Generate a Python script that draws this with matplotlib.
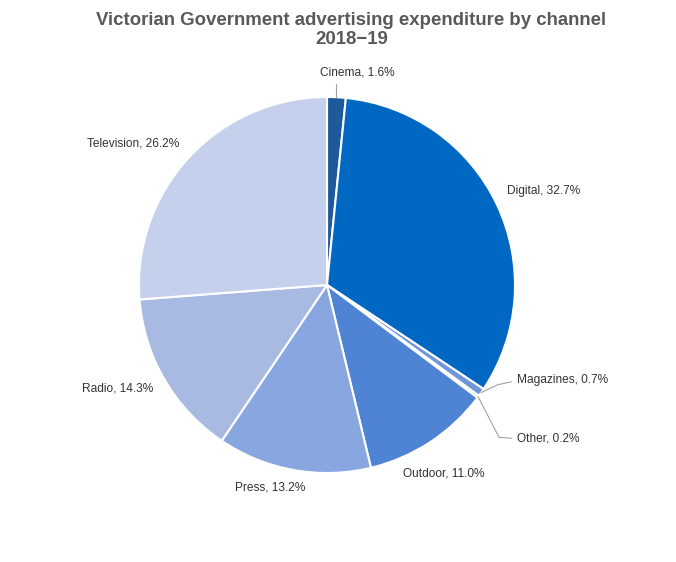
import numpy as np
import matplotlib.pyplot as plt

plt.rcParams['font.family'] = ['Liberation Sans', 'DejaVu Sans']

channels = ['Cinema', 'Digital', 'Magazines', 'Other', 'Outdoor', 'Press', 'Radio', 'Television']
shares = [1.6, 32.7, 0.7, 0.2, 11.0, 13.2, 14.3, 26.2]
colors = ['#1c5a9c', '#0067c2', '#6f96d8', '#9fb3e0', '#4f84d5', '#88a6df', '#a8bae2', '#c5d0ec']

fig = plt.figure(figsize=(6.76, 5.62), dpi=100)
cx, cy, r = 327, 285, 188
ax = fig.add_axes([(cx - r) / 676, (562 - cy - r) / 562, 2 * r / 676, 2 * r / 562])
wedges, _ = ax.pie(shares, colors=colors, startangle=90, counterclock=False, radius=1,
                   wedgeprops=dict(edgecolor='white', linewidth=1.5))
ax.set_xlim(-1, 1)
ax.set_ylim(-1, 1)
ax.axis('off')

# label positions (data units) and alignment
label_pos = {
    'Cinema': (0.16, 1.13, 'center'),
    'Digital': (0.955, 0.50, 'left'),
    'Magazines': (1.01, -0.505, 'left'),
    'Other': (1.01, -0.815, 'left'),
    'Outdoor': (0.62, -1.005, 'center'),
    'Press': (-0.30, -1.075, 'center'),
    'Radio': (-0.925, -0.55, 'right'),
    'Television': (-0.785, 0.755, 'right'),
}
for w, name, val in zip(wedges, channels, shares):
    x, y, ha = label_pos[name]
    ax.text(x, y, f'{name}, {val:.1f}%', ha=ha, va='center', fontsize=8.6,
            color='#333333', clip_on=False)

# leader lines for small slices
def edge_point(w, k=1.0):
    a = np.deg2rad((w.theta1 + w.theta2) / 2)
    return k * np.cos(a), k * np.sin(a)

lc = '#a0a0a0'
x0, y0 = edge_point(wedges[0])
ax.plot([x0, x0], [y0, 1.07], color=lc, lw=0.8, clip_on=False)
x0, y0 = edge_point(wedges[2])
ax.plot([x0, 0.91, 0.98], [y0, -0.53, -0.515], color=lc, lw=0.8, clip_on=False)
x0, y0 = edge_point(wedges[3])
ax.plot([x0, 0.915, 0.98], [y0, -0.81, -0.815], color=lc, lw=0.8, clip_on=False)

fig.suptitle('Victorian Government advertising expenditure by channel\n2018\u221219',
             fontsize=13.4, fontweight='bold', color='#595959', x=0.52, y=0.979,
             linespacing=1.2)
fig.savefig('out.png', dpi=100)
